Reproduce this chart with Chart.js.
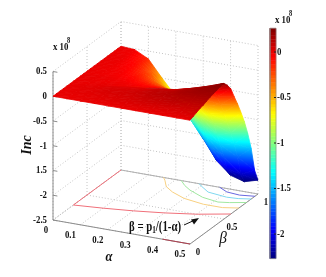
<!DOCTYPE html>
<html lang="en">
  <head>
    <meta charset="UTF-8" />
    <title>Inc surface</title>
    <script src="https://cdn.jsdelivr.net/npm/chart.js"></script>
    <style>
      body { margin: 0; background: #fff; }
      canvas { display: block; }
    </style>
  </head>
  <body>
    <canvas id="myChart" width="326" height="277"></canvas>

    <script>
      // surface: Inc (x 10^8), one row per beta, one column per alpha
      const alphas = [0, 0.05, 0.1, 0.15, 0.2, 0.25, 0.3, 0.35, 0.4, 0.45, 0.5];
      const betas = [0, 0.05, 0.1, 0.15, 0.2, 0.25, 0.3, 0.35, 0.4, 0.45, 0.5, 0.55, 0.6, 0.65, 0.7, 0.75, 0.8, 0.85, 0.9, 0.95, 1];
      const incColumn0 = [0, 0, 0, 0, 0, 0, 0, 0, 0, 0, 0, 0, 0, 0, 0, 0, 0, 0, 0, 0, 0];
      const incColumn1 = [0, 0, 0.01, 0.01, 0.01, 0.01, 0, 0, 0, 0, -0.01, -0.01, -0.01, -0.01, -0.01, -0.01, -0.01, -0.01, -0.02, -0.02, -0.02];
      const incColumn2 = [0, 0.01, 0.01, 0.02, 0.02, 0.02, 0.01, 0, -0.01, -0.01, -0.02, -0.03, -0.03, -0.04, -0.05, -0.06, -0.07, -0.09, -0.11, -0.13, -0.16];
      const incColumn3 = [0, 0.01, 0.02, 0.03, 0.04, 0.04, 0.03, 0, -0.01, -0.02, -0.04, -0.06, -0.08, -0.11, -0.14, -0.18, -0.22, -0.28, -0.34, -0.42, -0.5];
      const incColumn4 = [0, 0.01, 0.03, 0.04, 0.05, 0.05, 0.04, 0.02, -0.02, -0.04, -0.07, -0.1, -0.14, -0.19, -0.25, -0.32, -0.41, -0.49, -0.6, -0.72, -0.82];
      const incColumn5 = [0, 0.02, 0.04, 0.05, 0.06, 0.07, 0.06, 0.04, 0, -0.04, -0.08, -0.13, -0.19, -0.26, -0.34, -0.44, -0.56, -0.72, -0.88, -1.05, -1.2];
      const incColumn6 = [0, 0.02, 0.05, 0.07, 0.09, 0.1, 0.1, 0.08, 0.03, -0.03, -0.1, -0.18, -0.27, -0.37, -0.47, -0.62, -0.8, -1, -1.2, -1.4, -1.58];
      const incColumn7 = [0, 0.02, 0.05, 0.08, 0.1, 0.12, 0.12, 0.1, 0.07, 0.01, -0.07, -0.19, -0.3, -0.41, -0.55, -0.8, -1.05, -1.32, -1.58, -1.8, -1.98];
      const incColumn8 = [0, 0.02, 0.05, 0.09, 0.12, 0.14, 0.16, 0.16, 0.14, 0.08, 0, -0.13, -0.28, -0.47, -0.68, -0.93, -1.2, -1.45, -1.75, -2.03, -2.22];
      const incColumn9 = [0, 0.03, 0.05, 0.08, 0.11, 0.14, 0.17, 0.19, 0.2, 0.18, 0.12, -0.02, -0.18, -0.38, -0.6, -0.85, -1.12, -1.38, -1.7, -2.1, -2.3];
      const incColumn10 = [0, 0.03, 0.06, 0.09, 0.11, 0.14, 0.17, 0.19, 0.21, 0.24, 0.24, 0.15, 0.03, -0.18, -0.38, -0.6, -0.84, -1.13, -1.48, -1.97, -2.22];
      const incColumns = [incColumn0, incColumn1, incColumn2, incColumn3, incColumn4, incColumn5, incColumn6, incColumn7, incColumn8, incColumn9, incColumn10];

      // contour lines on the floor
      const contourRedAlpha = [0, 0, 0.1, 0.2, 0.3, 0.4, 0.5];
      const contourRedBeta = [1, 0.3, 0.333, 0.375, 0.43, 0.5, 0.6];
      const contourRedFrontAlpha = [0.4, 0.5];
      const contourRedFrontBeta = [0, 0];
      const contourOrangeAlpha = [0.155, 0.17, 0.2, 0.24, 0.3, 0.38, 0.45, 0.5];
      const contourOrangeBeta = [1, 0.96, 0.86, 0.79, 0.72, 0.68, 0.68, 0.72];
      const contourGreenAlpha = [0.22, 0.25, 0.284, 0.35, 0.414, 0.45, 0.5];
      const contourGreenBeta = [1, 0.93, 0.87, 0.79, 0.757, 0.78, 0.83];
      const contourCyanAlpha = [0.285, 0.3, 0.345, 0.42, 0.46, 0.5];
      const contourCyanBeta = [1, 0.97, 0.89, 0.86, 0.87, 0.9];
      const contourBlueAlpha = [0.36, 0.4, 0.45, 0.5];
      const contourBlueBeta = [1, 0.945, 0.93, 0.955];

      const zTicks = [0.5, 0, -0.5, -1, -1.5, -2, -2.5];
      const zTickLabels = ["0.5", "0", "-0.5", "-1", "1.5", "-2", "-2.5"];
      const alphaTicks = [0, 0.1, 0.2, 0.3, 0.4, 0.5];
      const alphaTickLabels = ["0", "0.1", "0.2", "0.3", "0.4", "0.5"];
      const betaTicks = [0, 0.5, 1];
      const betaTickLabels = ["0", "0.5", "1"];
      const barTicks = [0, -0.5, -1, -1.5, -2];
      const barTickLabels = ["0", "-0.5", "-1", "-1.5", "-2"];

      const cMin = -2.27;
      const cMax = 0.26;
      const zBottom = -2.5;
      const zTop = 0.5;

      // box projection, values are pixels of the hidden x/y scales
      const project = (a, b, z) => ({
        x: 53 + 274 * a + 68 * b,
        y: 220 + 48 * a - 50 * b - 49.5 * (z - zBottom),
      });
      const barY = (v) => 52 - 91 * v;

      const clamp = (v) => Math.max(0, Math.min(1, v));
      const jet = (z) => {
        const v = clamp((z - cMin) / (cMax - cMin));
        const r = clamp(1.5 - Math.abs(4 * v - 3));
        const g = clamp(1.5 - Math.abs(4 * v - 2));
        const b = clamp(1.5 - Math.abs(4 * v - 1));
        return `rgb(${Math.round(r * 255)},${Math.round(g * 255)},${Math.round(b * 255)})`;
      };

      const datasets = [];
      const addLine = (points, color, width, dash) => {
        datasets.push({
          data: points,
          showLine: true,
          borderColor: color,
          borderWidth: width,
          borderDash: dash || [],
          pointRadius: 0,
          fill: false,
        });
      };
      const gridColor = "#c4c4c4";
      const boxColor = "#8c8c8c";
      const dots = [1, 2];

      // walls and floor
      alphaTicks.forEach((a) => {
        addLine([project(a, 0, zBottom), project(a, 1, zBottom)], gridColor, 1, dots);
        addLine([project(a, 1, zBottom), project(a, 1, zTop)], gridColor, 1, dots);
      });
      betaTicks.forEach((b) => {
        addLine([project(0, b, zBottom), project(0.5, b, zBottom)], gridColor, 1, dots);
        addLine([project(0, b, zBottom), project(0, b, zTop)], gridColor, 1, dots);
      });
      zTicks.forEach((z) => {
        addLine([project(0, 0, z), project(0, 1, z), project(0.5, 1, z)], gridColor, 1, dots);
      });
      addLine([project(0, 1, zBottom), project(0.5, 1, zBottom)], "#b0b0b0", 1);
      addLine([project(0, 1, zBottom), project(0, 0, zBottom)], gridColor, 1, dots);
      addLine([project(0, 0, zBottom), project(0.5, 0, zBottom), project(0.5, 1, zBottom)], boxColor, 1);
      addLine([project(0, 0, zBottom), project(0, 0, zTop)], boxColor, 1);
      zTicks.forEach((z) => {
        addLine([project(0, 0, z), project(0.016, 0, z)], boxColor, 1);
      });

      // floor contours
      const addContour = (as, bs, color) => {
        addLine(as.map((a, i) => project(a, bs[i], zBottom)), color, 1);
      };
      addContour(contourRedAlpha, contourRedBeta, "#f0707a");
      addContour(contourRedFrontAlpha, contourRedFrontBeta, "#b04050");
      addContour(contourOrangeAlpha, contourOrangeBeta, "#f8d080");
      addContour(contourGreenAlpha, contourGreenBeta, "#a0e8a0");
      addContour(contourCyanAlpha, contourCyanBeta, "#80d8f0");
      addContour(contourBlueAlpha, contourBlueBeta, "#6868e0");

      // gradient of one surface triangle: z is a plane over its three corners
      const trianglePaint = (corners, zs) => (ctx) => {
        const zMean = (zs[0] + zs[1] + zs[2]) / 3;
        const chart = ctx.chart;
        if (!chart.chartArea) return jet(zMean);
        const sx = chart.scales.x;
        const sy = chart.scales.y;
        const p = corners.map((c) => ({ x: sx.getPixelForValue(c.x), y: sy.getPixelForValue(c.y) }));
        const ux = p[1].x - p[0].x;
        const uy = p[1].y - p[0].y;
        const vx = p[2].x - p[0].x;
        const vy = p[2].y - p[0].y;
        const det = ux * vy - uy * vx;
        if (Math.abs(det) < 1) return jet(zMean);
        const dzu = zs[1] - zs[0];
        const dzv = zs[2] - zs[0];
        const gx = (dzu * vy - dzv * uy) / det;
        const gy = (ux * dzv - vx * dzu) / det;
        const g = Math.hypot(gx, gy);
        if (g < 1e-5) return jet(zMean);
        const cx = (p[0].x + p[1].x + p[2].x) / 3;
        const cy = (p[0].y + p[1].y + p[2].y) / 3;
        const reach = Math.max(...p.map((q) => Math.hypot(q.x - cx, q.y - cy))) + 1;
        const dx = (gx / g) * reach;
        const dy = (gy / g) * reach;
        const grad = chart.ctx.createLinearGradient(cx - dx, cy - dy, cx + dx, cy + dy);
        for (let s = 0; s <= 8; s++) {
          const t = s / 8;
          grad.addColorStop(t, jet(zMean + g * reach * (2 * t - 1)));
        }
        return grad;
      };
      const addTriangle = (corners, zs) => {
        const paint = trianglePaint(corners, zs);
        datasets.push({
          data: [...corners, corners[0]],
          showLine: true,
          borderColor: paint,
          backgroundColor: paint,
          borderWidth: 0.8,
          pointRadius: 0,
          fill: "shape",
        });
      };

      // far rows first, so the near part of the surface covers the fold
      for (let j = betas.length - 2; j >= 0; j--) {
        for (let i = 0; i < alphas.length - 1; i++) {
          const zs = [incColumns[i][j], incColumns[i + 1][j], incColumns[i + 1][j + 1], incColumns[i][j + 1]];
          const corners = [
            project(alphas[i], betas[j], zs[0]),
            project(alphas[i + 1], betas[j], zs[1]),
            project(alphas[i + 1], betas[j + 1], zs[2]),
            project(alphas[i], betas[j + 1], zs[3]),
          ];
          addTriangle([corners[0], corners[2], corners[3]], [zs[0], zs[2], zs[3]]);
          addTriangle([corners[0], corners[1], corners[2]], [zs[0], zs[1], zs[2]]);
        }
      }

      // colorbar, built with the same colormap
      const barLeft = 270;
      const barRight = 276;
      const barSteps = 64;
      for (let s = 0; s < barSteps; s++) {
        const lo = cMin + ((cMax - cMin) * s) / barSteps;
        const hi = cMin + ((cMax - cMin) * (s + 1)) / barSteps;
        const c = jet((lo + hi) / 2);
        datasets.push({
          data: [
            { x: barLeft, y: barY(lo) },
            { x: barRight, y: barY(lo) },
            { x: barRight, y: barY(hi) },
            { x: barLeft, y: barY(hi) },
            { x: barLeft, y: barY(lo) },
          ],
          showLine: true,
          borderColor: c,
          backgroundColor: c,
          borderWidth: 0.5,
          pointRadius: 0,
          fill: "shape",
        });
      }
      addLine([
        { x: barLeft, y: barY(cMin) },
        { x: barRight, y: barY(cMin) },
        { x: barRight, y: barY(cMax) },
        { x: barLeft, y: barY(cMax) },
        { x: barLeft, y: barY(cMin) },
      ], "#8c8c8c", 0.6);
      barTicks.forEach((v) => {
        addLine([{ x: barRight - 2, y: barY(v) }, { x: barRight, y: barY(v) }], "#222", 1);
      });

      // first dataset is drawn on top, so flip to keep painting order
      datasets.reverse();

      const serif = '"Liberation Serif"';
      const labelsPlugin = {
        id: "labels",
        afterDraw(chart) {
          const c = chart.ctx;
          const sx = chart.scales.x;
          const sy = chart.scales.y;
          // the original lettering is condensed, squeeze -> horizontal factor
          const put = (text, x, y, font, align, squeeze) => {
            const k = squeeze || 0.8;
            c.save();
            c.translate(sx.getPixelForValue(x), sy.getPixelForValue(y));
            c.scale(k, 1);
            c.font = font;
            c.textAlign = align || "center";
            c.textBaseline = "middle";
            c.fillStyle = "#111";
            c.fillText(text, 0, 0);
            const w = c.measureText(text).width * k;
            c.restore();
            return w;
          };
          const tickFont = `bold 11px ${serif}`;
          zTicks.forEach((z, i) => {
            put(zTickLabels[i], 47, project(0, 0, z).y, tickFont, "right");
          });
          alphaTicks.forEach((a, i) => {
            const p = project(a, 0, zBottom);
            put(alphaTickLabels[i], p.x - (a === 0 ? 7 : 10), p.y + 10.5, tickFont);
          });
          betaTicks.forEach((b, i) => {
            const p = project(0.5, b, zBottom);
            put(betaTickLabels[i], p.x + 8, p.y + 8.5, tickFont);
          });
          barTicks.forEach((v, i) => {
            put(barTickLabels[i], 277, barY(v), tickFont, "left");
          });

          put("x 10", 53, 47, tickFont, "left");
          put("8", 67, 41, `bold 8px ${serif}`, "left");
          put("x 10", 275, 20, tickFont, "left");
          put("8", 289, 14, `bold 8px ${serif}`, "left");

          put("α", 109, 257, `italic bold 14px ${serif}`, "center", 0.9);
          put("β", 223, 239, `italic 17px ${serif}`, "center", 0.9);

          c.save();
          c.translate(sx.getPixelForValue(27), sy.getPixelForValue(145));
          c.rotate(-Math.PI / 2);
          c.font = `italic bold 14px ${serif}`;
          c.textAlign = "center";
          c.textBaseline = "middle";
          c.fillStyle = "#111";
          c.fillText("Inc", 0, 0);
          c.restore();

          // annotation with its arrow
          const noteFont = `bold 15px ${serif}`;
          let x = 129;
          const y = 227;
          const pieces = [["β = p", noteFont, 0], ["1", `bold 10px ${serif}`, 3], ["/(1-α)", noteFont, 0]];
          pieces.forEach(([text, font, drop]) => {
            x += put(text, x, y + drop, font, "left", 0.72);
          });
          c.strokeStyle = "#111";
          c.fillStyle = "#111";
          c.lineWidth = 1;
          c.beginPath();
          c.moveTo(sx.getPixelForValue(184), sy.getPixelForValue(225));
          c.lineTo(sx.getPixelForValue(196), sy.getPixelForValue(219.5));
          c.stroke();
          c.beginPath();
          c.moveTo(sx.getPixelForValue(199), sy.getPixelForValue(218));
          c.lineTo(sx.getPixelForValue(191), sy.getPixelForValue(219.5));
          c.lineTo(sx.getPixelForValue(194), sy.getPixelForValue(224.5));
          c.closePath();
          c.fill();
        },
      };

      new Chart(document.getElementById("myChart").getContext("2d"), {
        type: "scatter",
        data: { datasets },
        options: {
          responsive: false,
          animation: false,
          events: [],
          layout: { padding: 0 },
          plugins: { legend: { display: false }, tooltip: { enabled: false } },
          scales: {
            x: { type: "linear", display: false, min: 0, max: 326 },
            y: { type: "linear", display: false, min: 0, max: 277, reverse: true },
          },
        },
        plugins: [labelsPlugin],
      });
    </script>
  </body>
</html>
